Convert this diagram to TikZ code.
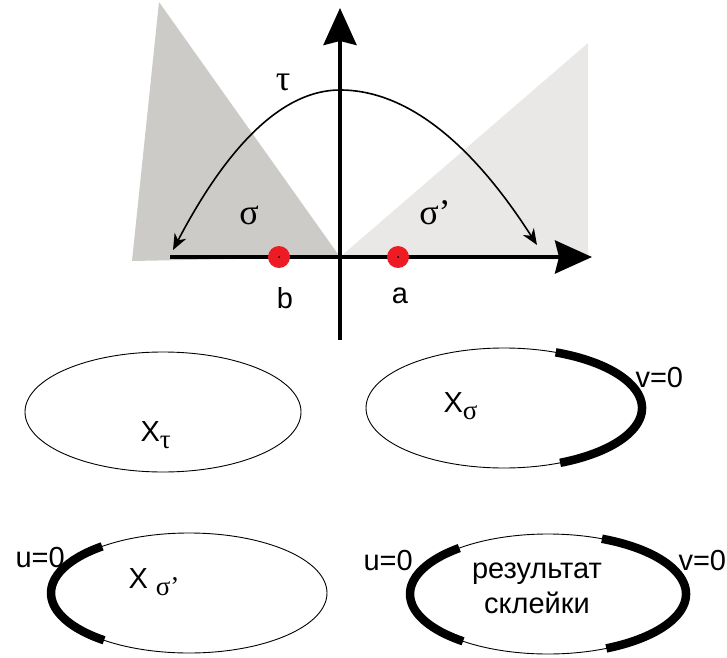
\documentclass[tikz,border=0pt]{standalone}
\usepackage{fontspec}
\setmainfont{Liberation Sans}
\newfontfamily\greekfont{Liberation Serif}
\usetikzlibrary{arrows.meta,shapes.geometric,positioning}

\definecolor{shadeL}{RGB}{204,203,200}
\definecolor{shadeR}{RGB}{233,232,230}
\definecolor{dotred}{RGB}{237,28,36}
\newcommand{\lowgr}[1]{\raisebox{-7pt}{\fontsize{27}{27}\selectfont\greekfont #1}}

\begin{document}
\begin{tikzpicture}[
  x=1pt, y=1pt,
  font=\fontsize{29}{35}\selectfont,
  axis/.style={line width=4pt, -{Stealth[length=37pt,width=33pt,inset=4pt]}},
  curvearr/.style={line width=1.6pt,
              {Stealth[length=16pt,width=13pt,inset=5pt]}-{Stealth[length=16pt,width=13pt,inset=5pt]}},
  patch/.style={draw, ellipse, line width=0.9pt, inner sep=0pt, outer sep=0pt,
              minimum width=276pt, minimum height=120pt},
  glued/.style={line width=8.5pt},
  marker/.style={circle, fill=dotred, minimum size=22pt, inner sep=0pt},
  greek/.style={font=\fontsize{36}{36}\selectfont\greekfont},
]
\useasboundingbox (0,0) rectangle (727,657);

%% ---------- cones sigma, sigma' ----------
\fill[shadeL] (159,655) -- (132,396) -- (340,400) -- cycle;
\fill[shadeR] (340,400) -- (588,614) -- (588,397) -- cycle;

%% ---------- axes ----------
\coordinate (O) at (340,400);
\coordinate (xl) at (170,400);
\coordinate (xr) at (592,400);
\coordinate (yb) at (340,317);
\coordinate (yt) at (340,649);
\draw[axis] (xl) -- (xr);
\draw[axis] (yb) -- (yt);

%% ---------- tau ----------
\coordinate (tauL) at (173,407);
\coordinate (tauTop) at (340,567);
\coordinate (tauR) at (537,412);
\draw[curvearr] (tauL) .. controls (229,514) and (284,567) .. (tauTop)
  .. controls (406,567) and (471,515) .. (tauR);

\node[greek] (tau) at (283,575) {τ};
\node[greek] (sig) at (249,442) {σ};
\node[greek] (sigp) at (435,444) {σ’};

%% ---------- points a, b ----------
\node[marker] (b) at (279,400) {};
\node[marker] (a) at (398,400) {};
\fill (b) circle (1pt);
\fill (a) circle (1pt);
\node (lb) at (285,359) {b};
\node (la) at (400,361) {a};

%% ---------- X_tau ----------
\node[patch] (Xtau) at (163,245) {};
\node[anchor=base west] (Xtaulbl) at (137,216) {X\lowgr{τ}};

%% ---------- X_sigma ----------
\node[patch] (Xsig) at (504,249) {};
\node[anchor=base west] (Xsiglbl) at (440,245) {X\lowgr{σ}};
\draw[glued] ([shift={(68:138 and 60)}]Xsig.center)
  arc[start angle=68, end angle=-66, x radius=138, y radius=60];
\node[anchor=base west] (v1) at (632,270) {v=0};

%% ---------- X_sigma' ----------
\node[patch] (Xsigp) at (189,64) {};
\node[anchor=base west] (Xsigplbl) at (125,69) {X \lowgr{σ’}};
\draw[glued] ([shift={(129:138 and 60)}]Xsigp.center)
  arc[start angle=129, end angle=232, x radius=138, y radius=60];
\node[anchor=base west] (u1) at (12,90) {u=0};

%% ---------- result ----------
\node[patch] (Xres) at (548,63) {};
\node[align=center] (reslbl) at (537,69) {результат\\склейки};
\draw[glued] ([shift={(130:138 and 60)}]Xres.center)
  arc[start angle=130, end angle=232, x radius=138, y radius=60];
\draw[glued] ([shift={(67:138 and 60)}]Xres.center)
  arc[start angle=67, end angle=-65, x radius=138, y radius=60];
\node[anchor=base west] (u2) at (360,87) {u=0};
\node[anchor=base west] (v2) at (675,87) {v=0};

\end{tikzpicture}
\end{document}
